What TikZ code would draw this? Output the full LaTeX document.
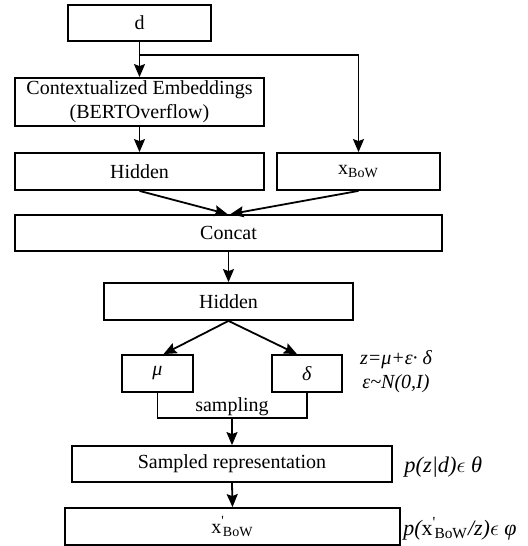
\documentclass[tikz,border=0pt]{standalone}
\usepackage{fontspec}
\setmainfont{Liberation Serif}
\usetikzlibrary{arrows.meta}

\begin{document}
\begin{tikzpicture}[x=0.5pt,y=-0.5pt,
    box/.style={draw,line width=0.9pt,inner sep=0pt,align=center,minimum height=18.5pt},
    arr/.style={-{Stealth[length=6.5pt,width=5.5pt,inset=1pt]},line width=0.9pt},
    note/.style={font=\itshape,align=center}]
  \useasboundingbox (0,0) rectangle (528,546);

  % encoder
  \node[box,minimum width=71.5pt,minimum height=18pt] (d) at (139.5,23) {d};
  \node[box,minimum width=124.5pt,minimum height=24pt] (ctx) at (139.5,102)
    {Contextualized Embeddings\\(BERTOverflow)};
  \node[box,minimum width=124.5pt] (hid1) at (139.5,171.5) {Hidden};
  \node[box,minimum width=81.5pt] (bow) at (358.5,171.5) {x\textsubscript{BoW}};
  \node[box,minimum width=213.5pt,minimum height=18pt] (concat) at (228.5,233) {Concat};
  \node[box,minimum width=124.5pt] (hid2) at (228.5,301.5) {Hidden};

  % latent
  \node[box,minimum width=35.5pt] (mu) at (157.5,373.5) {\textit{μ}};
  \node[box,minimum width=35pt] (delta) at (307,373.5) {\textit{δ}};
  \coordinate (split) at (139.5,55);
  \coordinate (join) at (232,418);
  \node[box,minimum width=160pt,minimum height=18pt] (samp) at (232,464) {Sampled representation};
  \node[box,minimum width=167.5pt] (xout) at (232.5,526.5)
    {x\textsuperscript{\textquotesingle}\kern-1pt\textsubscript{BoW}};

  \draw[arr] (d.south) -- (ctx.north);
  \draw[arr] (split) -| (bow.north);
  \draw[arr] (ctx.south) -- (hid1.north);
  \draw[arr] (hid1.south) -- ([xshift=-0.5pt]concat.north);
  \draw[arr] (bow.south) -- ([xshift=1pt]concat.north);
  \draw[arr] (concat.south) -- (hid2.north);
  \draw[arr] (hid2.south) -- ([xshift=3pt]mu.north);
  \draw[arr] (hid2.south) -- ([xshift=-5pt]delta.north);
  \draw[line width=0.9pt] (mu.south) |- (join) -| (delta.south);
  \node[anchor=south,inner sep=1pt] (samplab) at (join) {sampling};
  \draw[arr] (join) -- (samp.north);
  \draw[arr] (samp.south) -- (xout.north);

  % notes
  \node[note] (reparam) at (396,372) {z=μ+ε· δ\\ε\textasciitilde N(0,I)};
  \node[note,anchor=west,inner sep=0pt,font=\fontsize{11.2}{13}\itshape] (pz) at (404,467)
    {p(z|d)$\epsilon$ θ};
  \node[note,anchor=west,inner sep=0pt,font=\fontsize{11}{13}\itshape] (px) at (403,529)
    {p(\upshape x\textsuperscript{\textquotesingle}\kern-1pt\textsubscript{BoW}\itshape/z)$\epsilon$ φ};
\end{tikzpicture}
\end{document}
